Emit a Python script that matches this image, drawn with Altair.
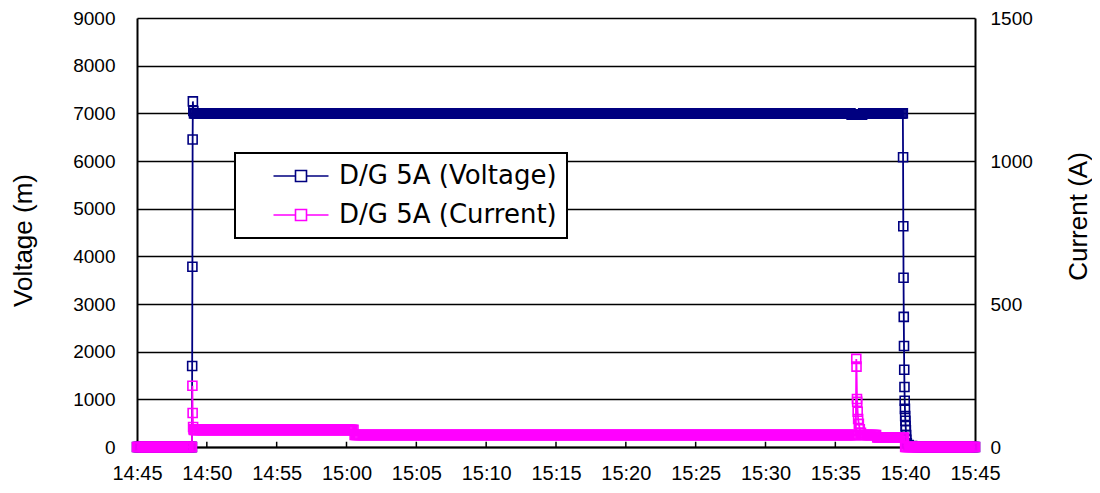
import altair as alt
import pandas as pd

DAY = "2000-01-01T"
STEP = "5s"  # logger sampling interval

# ---- Voltage (left axis, V) ----
# flat levels: start, end, value
volt_level_start = ["14:45:00", "14:49:05", "15:36:10", "15:37:00", "15:40:55"]
volt_level_end = ["14:48:55", "15:36:05", "15:36:55", "15:39:45", "15:45:00"]
volt_level_value = [0, 7000, 6970, 7000, 0]
# individual transient samples
volt_tr_time = ["14:48:56", "14:48:57", "14:48:58", "14:48:59", "14:49:00", "14:49:02",
                "15:39:50", "15:39:51", "15:39:52", "15:39:53", "15:39:54", "15:39:55",
                "15:39:56", "15:39:57", "15:39:58", "15:39:59", "15:40:00", "15:40:01",
                "15:40:02", "15:40:03", "15:40:04", "15:40:05", "15:40:07", "15:40:15",
                "15:40:30", "15:40:50"]
volt_tr_value = [0, 1700, 3780, 6450, 7250, 7050,
                 7000, 6080, 4630, 3550, 2730, 2120,
                 1620, 1260, 970, 800, 650, 550,
                 440, 350, 250, 150, 80, 40,
                 20, 0]

# ---- Current (right axis, A) ----
cur_level_start = ["14:45:00", "14:49:05", "15:00:35", "15:36:55", "15:38:00", "15:40:00"]
cur_level_end = ["14:48:55", "15:00:30", "15:36:25", "15:37:55", "15:39:55", "15:45:00"]
cur_level_value = [0, 60, 42, 42, 33, 0]
cur_tr_time = ["14:48:56", "14:48:58", "14:48:59", "14:49:01", "14:49:03",
               "15:36:28", "15:36:30", "15:36:31", "15:36:33", "15:36:34", "15:36:36",
               "15:36:38", "15:36:41", "15:36:45", "15:36:50"]
cur_tr_value = [0, 214, 119, 70, 62,
                42, 308, 281, 168, 158, 123,
                98, 81, 62, 50]

tick_times = ["14:45", "14:50", "14:55", "15:00", "15:05", "15:10", "15:15",
              "15:20", "15:25", "15:30", "15:35", "15:40", "15:45"]
volt_ticks = [0, 1000, 2000, 3000, 4000, 5000, 6000, 7000, 8000, 9000]
cur_ticks = [0, 500, 1000, 1500]

series_names = ["D/G 5A (Voltage)", "D/G 5A (Current)"]
series_colors = ["#000080", "#FF00FF"]


def expand(starts, ends, values, tr_t, tr_v, col):
    rows = []
    for s, e, v in zip(starts, ends, values):
        for t in pd.date_range(DAY + s, DAY + e, freq=STEP):
            rows.append((t, v))
    rows += [(pd.Timestamp(DAY + t), v) for t, v in zip(tr_t, tr_v)]
    return pd.DataFrame(rows, columns=["t", col]).sort_values("t").reset_index(drop=True)


volt_df = expand(volt_level_start, volt_level_end, volt_level_value, volt_tr_time, volt_tr_value, "v")
volt_df["series"] = series_names[0]
cur_df = expand(cur_level_start, cur_level_end, cur_level_value, cur_tr_time, cur_tr_value, "a")
cur_df["series"] = series_names[1]

tick_df = pd.DataFrame({"t": [pd.Timestamp(DAY + s + ":00") for s in tick_times]})
tick_df["v"] = 0
tick_df["v2"] = 110

FONT = "Liberation Sans"

x_enc = alt.X(
    "t:T",
    scale=alt.Scale(domain=[alt.DateTime(year=2000, month=1, date=1, hours=14, minutes=45),
                            alt.DateTime(year=2000, month=1, date=1, hours=15, minutes=45)]),
    axis=alt.Axis(
        title=None, format="%H:%M",
        values=[alt.DateTime(year=2000, month=1, date=1,
                             hours=int(s[:2]), minutes=int(s[3:])) for s in tick_times],
        grid=False, ticks=False, labelFontSize=20, labelFont=FONT, labelColor="black",
        labelPadding=16, domainColor="black", domainWidth=2, labelFlush=False,
    ),
)

color_scale = alt.Scale(domain=series_names, range=series_colors)
legend_path = "M-5,0H-1M1,0H5M-1,-1H1V1H-1Z"

volt_y = alt.Y(
    "v:Q",
    scale=alt.Scale(domain=[0, 9000], nice=False),
    axis=alt.Axis(
        title="Voltage (m)", orient="left", values=volt_ticks, format="d", grid=True,
        gridColor="black", gridWidth=1.6, ticks=False, domainColor="black", domainWidth=2,
        labelFontSize=19, labelFont=FONT, labelColor="black", labelPadding=22,
        titleFontSize=26, titleFont=FONT, titleFontWeight="normal", titleColor="black",
        titleAngle=270, titleAlign="center", titleBaseline="middle",
        titleX=-114, titleY=222,
    ),
)

volt_line = alt.Chart(volt_df).mark_line(strokeWidth=1.8).encode(
    x=x_enc,
    y=volt_y,
    color=alt.Color(
        "series:N", scale=color_scale,
        legend=alt.Legend(
            title=None, orient="none", legendX=98, legendY=135,
            strokeColor="black", fillColor="white", padding=10,
            symbolType=legend_path, symbolSize=121, symbolStrokeWidth=1.6,
            symbolOffset=43, labelOffset=25, labelFontSize=26, labelFont="DejaVu Sans",
            labelColor="black", labelLimit=500, rowPadding=13,
        ),
    ),
)
volt_pts = alt.Chart(volt_df).mark_point(
    shape="square", filled=False, size=81, strokeWidth=1.6, color=series_colors[0], opacity=1
).encode(x="t:T", y="v:Q")
ticks = alt.Chart(tick_df).mark_rule(color="black", strokeWidth=1.5).encode(
    x="t:T", y="v:Q", y2="v2:Q")

cur_y = alt.Y(
    "a:Q",
    scale=alt.Scale(domain=[0, 1500], nice=False),
    axis=alt.Axis(
        title="Current (A)", orient="right", values=cur_ticks, format="d", grid=False, ticks=False,
        domainColor="black", domainWidth=2,
        labelFontSize=19, labelFont=FONT, labelColor="black", labelPadding=15,
        titleFontSize=26, titleFont=FONT, titleFontWeight="normal", titleColor="black",
        titleAngle=270, titleAlign="center", titleBaseline="middle",
        titleX=103, titleY=198,
    ),
)
cur_line = alt.Chart(cur_df).mark_line(strokeWidth=1.8).encode(
    x="t:T", y=cur_y, color=alt.Color("series:N", scale=color_scale))
cur_pts = alt.Chart(cur_df).mark_point(
    shape="square", filled=False, size=81, strokeWidth=1.6, color=series_colors[1], opacity=1
).encode(x="t:T", y="a:Q")

volt_layer = alt.layer(ticks, volt_line, volt_pts)
cur_layer = alt.layer(cur_line, cur_pts)

chart = alt.layer(volt_layer, cur_layer).resolve_scale(y="independent").properties(
    width=838, height=429,
    autosize=alt.AutoSizeParams(type="none"),
    padding={"left": 129, "top": 10, "right": 117, "bottom": 38},
    background="white",
).configure_view(strokeWidth=0).configure_legend(strokeWidth=2)

chart.save("out.html", embed_options={"renderer": "svg", "actions": False})
